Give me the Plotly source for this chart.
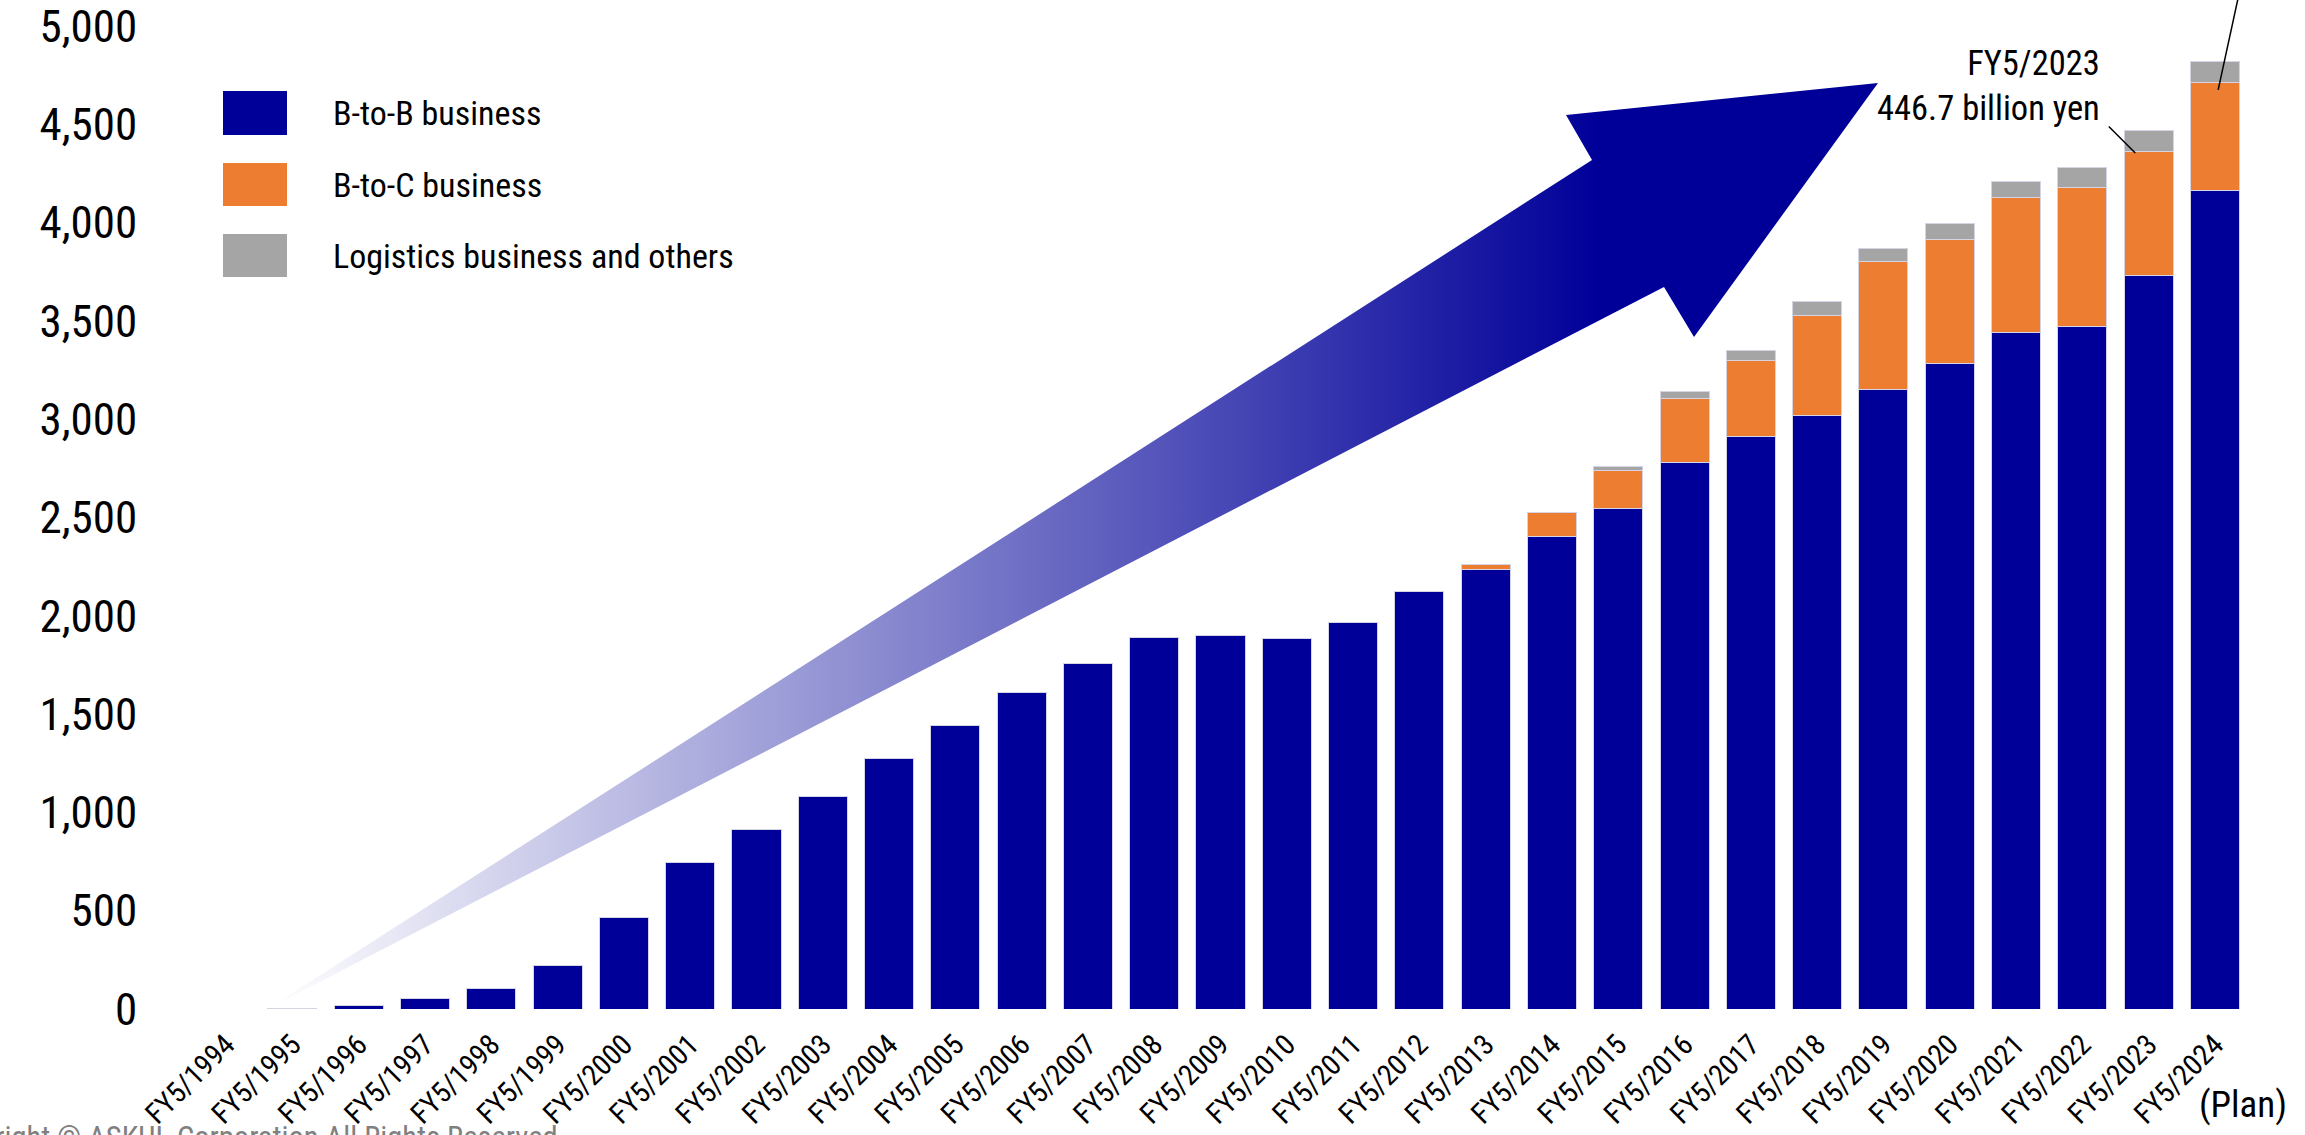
import subprocess
import plotly.graph_objects as go

# ---------------- data (100 million yen) ----------------
years = ["FY5/1994", "FY5/1995", "FY5/1996", "FY5/1997", "FY5/1998", "FY5/1999",
         "FY5/2000", "FY5/2001", "FY5/2002", "FY5/2003", "FY5/2004", "FY5/2005",
         "FY5/2006", "FY5/2007", "FY5/2008", "FY5/2009", "FY5/2010", "FY5/2011",
         "FY5/2012", "FY5/2013", "FY5/2014", "FY5/2015", "FY5/2016", "FY5/2017",
         "FY5/2018", "FY5/2019", "FY5/2020", "FY5/2021", "FY5/2022", "FY5/2023",
         "FY5/2024"]

b2b = [0, 2, 17, 52, 103, 220, 464, 744, 915, 1079, 1273, 1441, 1609, 1756,
       1889, 1899, 1884, 1965, 2123, 2237, 2403, 2546, 2780, 2912, 3019, 3152,
       3284, 3442, 3473, 3733, 4165]

b2c = [None] * 19 + [24, 122, 193, 326, 387, 509, 652, 632, 687, 707, 631, 550]

others = [None] * 21 + [21, 35, 51, 72, 66, 81, 82, 102, 103, 102]

series_names = ["B-to-B business", "B-to-C business", "Logistics business and others"]
series_colors = ["#000099", "#ED7D31", "#A5A5A5"]

y_ticks = list(range(0, 5001, 500))
Y_MAX = 5000

# ---------------- font choice (narrow face if the system has one) ----------------
families = set()
try:
    out = subprocess.run(["fc-list", ":", "family"], capture_output=True, text=True).stdout
    for line in out.splitlines():
        for f in line.split(","):
            families.add(f.strip())
except Exception:
    pass

FONT, SCALE = "Liberation Sans, Arial, sans-serif", 0.85
for cand in ["Liberation Sans Narrow", "Arial Narrow", "Nimbus Sans Narrow",
             "Noto Sans Condensed", "Roboto Condensed", "Open Sans Condensed"]:
    if cand in families:
        FONT, SCALE = cand + ", Liberation Sans, sans-serif", 1.0
        break


def fs(size):
    return round(size * SCALE, 1)


# ---------------- layout geometry ----------------
W, H = 2305, 1135
ML, MR, MT, MB = 193, 57, 26, 126
PW = W - ML - MR
PH = H - MT - MB
N = len(years)


def px_to_data(px, py):
    """Convert a figure pixel position to data coordinates (decoration only)."""
    x = (px - ML) / PW * N - 0.5
    y = (H - MB - py) / PH * Y_MAX
    return x, y


def px_to_paper(px, py):
    return (px - ML) / PW, (H - MB - py) / PH


fig = go.Figure()

# ---------------- gradient arrow (decoration, behind bars) ----------------
arrow_px = [(269, 1008), (1592, 160), (1566, 115), (1878, 83),
            (1694, 337), (1664, 287), (269, 1008)]
arrow_pts = [px_to_data(px, py) for px, py in arrow_px]
gx0, _ = px_to_data(269, 0)
gx1, _ = px_to_data(1600, 0)
fig.add_trace(go.Scatter(
    x=[p[0] for p in arrow_pts], y=[p[1] for p in arrow_pts],
    mode="lines", fill="toself",
    line=dict(width=0, color="rgba(0,0,0,0)"),
    fillgradient=dict(type="horizontal",
                      colorscale=[[0, "rgba(0,0,153,0)"], [1, "rgb(0,0,153)"]],
                      start=gx0, stop=gx1),
    hoverinfo="skip", showlegend=False, zorder=-1,
))

# ---------------- stacked bars ----------------
xs = list(range(N))
for name, vals, col in zip(series_names, [b2b, b2c, others], series_colors):
    fig.add_trace(go.Bar(
        x=xs, y=vals, name=name,
        marker=dict(color=col, line=dict(color="#d4d4e4", width=1)),
        showlegend=False, zorder=1,
    ))

# ---------------- manual legend ----------------
legend_rows = [(91, 135), (163, 206), (234, 277)]
for (y0p, y1p), name, col in zip(legend_rows, series_names, series_colors):
    ax0, ay0 = px_to_paper(223, y1p)
    ax1, ay1 = px_to_paper(287, y0p)
    fig.add_shape(type="rect", xref="paper", yref="paper",
                  x0=ax0, x1=ax1, y0=ay0, y1=ay1,
                  fillcolor=col, line=dict(width=0))
    tx, ty = px_to_paper(331, (y0p + y1p) / 2)
    fig.add_annotation(xref="paper", yref="paper", x=tx, y=ty, text=name,
                       showarrow=False, xanchor="left", yanchor="middle",
                       font=dict(family=FONT, size=fs(34), color="black"))

# ---------------- annotations ----------------
i23 = years.index("FY5/2023")
i24 = years.index("FY5/2024")
top23 = b2b[i23] + b2c[i23]
tx, ty = px_to_paper(2102, 85)
fig.add_annotation(xref="paper", yref="paper", x=tx, y=ty,
                   text="FY5/2023<br>446.7 billion yen", align="right",
                   showarrow=False, xanchor="right", yanchor="middle",
                   font=dict(family=FONT, size=fs(34.5), color="black"))
fig.add_shape(type="line", xref="x", yref="y",
              x0=i23 - 0.6, y0=top23 + 125, x1=i23 - 0.2, y1=top23 - 10,
              line=dict(color="black", width=1.5))

top24 = b2b[i24] + b2c[i24]
fig.add_shape(type="line", xref="x", yref="paper",
              x0=i24 + 0.05, y0=(top24 - 40) / Y_MAX, x1=i24 + 0.42, y1=1.05,
              line=dict(color="black", width=1.5))

px_, py_ = px_to_paper(2243, 1104)
fig.add_annotation(xref="paper", yref="paper", x=px_, y=py_, text="(Plan)",
                   showarrow=False, xanchor="center", yanchor="middle",
                   font=dict(family=FONT, size=fs(37), color="black"))

cx, cy = px_to_paper(-67 * SCALE, 1118)
fig.add_annotation(xref="paper", yref="paper", x=cx, y=cy,
                   text="Copyright © ASKUL Corporation All Rights Reserved.",
                   showarrow=False, xanchor="left", yanchor="top",
                   font=dict(family=FONT, size=fs(30.5), color="#808080"))

# ---------------- axes & layout ----------------
fig.update_layout(
    width=W, height=H,
    margin=dict(l=ML, r=MR, t=MT, b=MB, autoexpand=False),
    paper_bgcolor="white", plot_bgcolor="white",
    barmode="stack", bargap=0.26,
    font=dict(family=FONT, color="black"),
    showlegend=False,
)
fig.update_xaxes(
    range=[-0.5, N - 0.5], tickmode="array", tickvals=xs, ticktext=years,
    tickangle=-45, tickfont=dict(family=FONT, size=fs(29), color="black"),
    showgrid=False, zeroline=False, showline=True, linecolor="#202020", linewidth=2,
    ticks="outside", ticklen=5, tickcolor="rgba(0,0,0,0)",
    ticklabeloverflow="allow",
)
fig.update_yaxes(
    range=[0, Y_MAX], tickmode="array", tickvals=y_ticks,
    ticktext=[f"{v:,}" for v in y_ticks],
    tickfont=dict(family=FONT, size=fs(45), color="black"),
    showgrid=False, zeroline=False, showline=True, linecolor="#404040", linewidth=1.5,
    ticks="outside", ticklen=45, tickcolor="rgba(0,0,0,0)",
    ticklabeloverflow="allow",
)

fig.write_html("out.html")
